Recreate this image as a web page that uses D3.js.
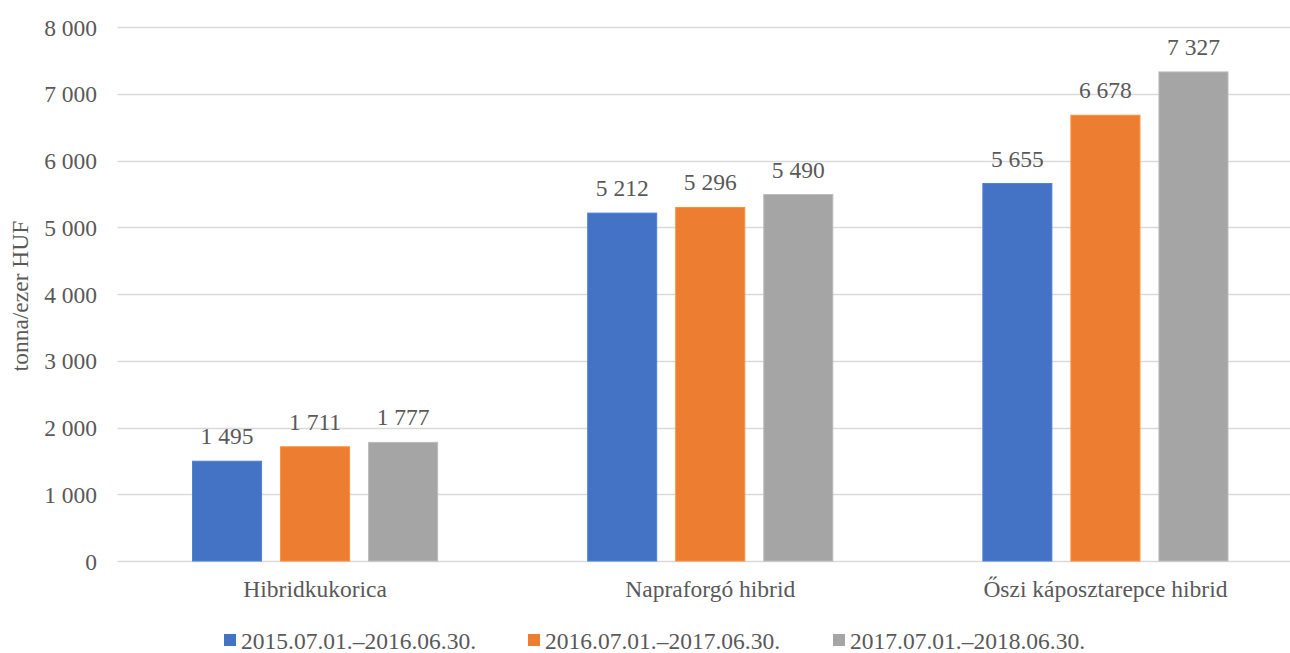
<!DOCTYPE html>
<html><head><meta charset="utf-8">
<script src="https://cdn.jsdelivr.net/npm/d3@7"></script>
<style>body{margin:0;background:#fff}svg{display:block}</style>
</head><body><svg id="c" width="1290" height="653"></svg>
<script>
const categories = ["Hibridkukorica", "Napraforgó hibrid", "Őszi káposztarepce hibrid"];
const seriesNames = ["2015.07.01.–2016.06.30.", "2016.07.01.–2017.06.30.", "2017.07.01.–2018.06.30."];
const s2015 = [1495, 5212, 5655];
const s2016 = [1711, 5296, 6678];
const s2017 = [1777, 5490, 7327];
const colors = ["#4472C4", "#ED7D31", "#A5A5A5"];
const yTicks = [0, 1000, 2000, 3000, 4000, 5000, 6000, 7000, 8000];
const yTitle = "tonna/ezer HUF";

const series = [s2015, s2016, s2017];
const FONT = "'Liberation Serif'";
const FS = 23.5;
const TXT = "#595959";
const svg = d3.select("#c");
const fmt = v => d3.format(",")(v).replace(/,/g, " ");
const styleText = sel => sel.style("font-family", FONT).style("font-size", FS + "px").style("fill", TXT);

const y = d3.scaleLinear().domain([0, 8000]).range([561, 27]);
const x0 = d3.scaleBand().domain(categories).range([117.5, 1303]).paddingInner(0).paddingOuter(0);
const x1 = d3.scaleBand().domain([0,1,2]).range([0, x0.bandwidth()]).paddingInner(0.216).paddingOuter(0.852);

// gridlines
svg.append("g").selectAll("line").data(yTicks).join("line")
  .attr("x1", 117.5).attr("x2", 1303)
  .attr("y1", d => Math.round(y(d)) + 0.5).attr("y2", d => Math.round(y(d)) + 0.5)
  .attr("stroke", "#D9D9D9").attr("stroke-width", 1.3);

// y axis labels
const yAxis = d3.axisLeft(y).tickValues(yTicks).tickFormat(fmt).tickSize(0).tickPadding(0);
const ga = svg.append("g").attr("transform", "translate(97,0)").call(yAxis);
ga.select(".domain").remove();
ga.selectAll("text").call(styleText).attr("dy", "0.35em");

// bars
const groups = svg.append("g").selectAll("g").data(categories).join("g")
  .attr("transform", d => `translate(${x0(d)},0)`);
groups.each(function(cat, ci) {
  const g = d3.select(this);
  series.forEach((s, si) => {
    const v = s[ci];
    g.append("rect")
      .attr("x", x1(si)).attr("width", x1.bandwidth())
      .attr("y", y(v)).attr("height", y(0) - y(v))
      .attr("fill", colors[si]).attr("stroke", d3.color(colors[si]).brighter(0.35)).attr("stroke-width", 1);
    g.append("text")
      .attr("x", x1(si) + x1.bandwidth() / 2).attr("y", y(v) - 17)
      .attr("text-anchor", "middle").call(styleText).text(fmt(v));
  });
});

// category labels
const xAxis = d3.axisBottom(x0).tickSize(0).tickPadding(0);
const gx = svg.append("g").attr("transform", "translate(0,597)").call(xAxis);
gx.select(".domain").remove();
gx.selectAll("text").call(styleText).attr("dy", 0);

// y title
svg.append("text").attr("transform", "translate(28,296) rotate(-90)")
  .attr("text-anchor", "middle").call(styleText).text(yTitle);

// legend
const legX = [224, 528, 833];
const leg = svg.append("g").selectAll("g").data(seriesNames).join("g")
  .attr("transform", (d, i) => `translate(${legX[i]},634)`);
leg.append("rect").attr("width", 12).attr("height", 12).attr("fill", (d, i) => colors[i]);
leg.append("text").attr("x", 17).attr("y", 14.5).call(styleText).text(d => d);
</script></body></html>
